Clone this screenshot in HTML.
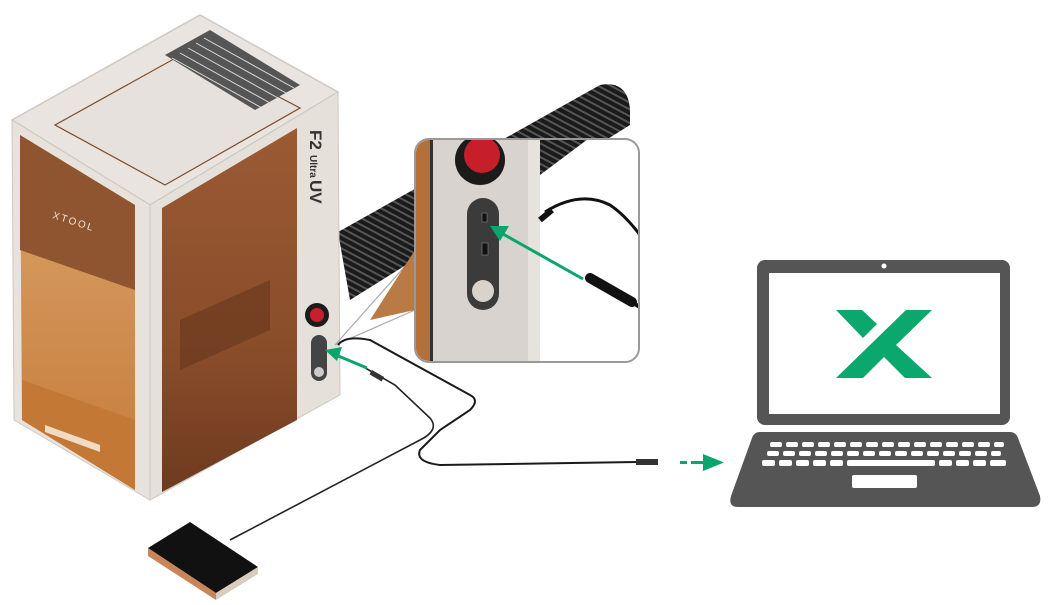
<!DOCTYPE html>
<html><head><meta charset="utf-8"><style>
html,body{margin:0;padding:0;background:#fff;width:1048px;height:605px;overflow:hidden}
svg{display:block}
</style></head><body>
<svg width="1048" height="605" viewBox="0 0 1048 605" xmlns="http://www.w3.org/2000/svg">
<defs>
<linearGradient id="tube" x1="0" y1="0" x2="0.3" y2="1">
<stop offset="0" stop-color="#3a3a3a"/><stop offset="1" stop-color="#0d0d0d"/></linearGradient>
<pattern id="rib" width="6" height="6" patternUnits="userSpaceOnUse" patternTransform="rotate(-62)">
<rect width="6" height="6" fill="#1a1a1a"/><rect width="2" height="6" fill="#555"/></pattern>
<linearGradient id="side" x1="0" y1="0" x2="0" y2="1">
<stop offset="0" stop-color="#9a5a34"/><stop offset="0.6" stop-color="#8a4d2a"/><stop offset="1" stop-color="#6d3a1f"/></linearGradient>
<linearGradient id="front" x1="0" y1="0" x2="0" y2="1">
<stop offset="0" stop-color="#dca56a"/><stop offset="1" stop-color="#c47a3a"/></linearGradient>
</defs>

<!-- exhaust tube -->
<path d="M338 232 L600 85 Q628 80 630 110 L630 125 L350 300 Z" fill="url(#rib)"/>

<!-- machine top face -->
<path d="M12 120 L200 15 L338 92 L150 205 Z" fill="#e9e4df" stroke="#cfc8c1" stroke-width="1.5"/>
<path d="M55 125 L190 50 L300 108 L165 185 Z" fill="#e6e1dc" stroke="#7a4a2a" stroke-width="1.2"/>
<path d="M165 55 L210 30 L300 85 L255 110 Z" fill="#555"/>
<g stroke="#ddd" stroke-width="1">
<line x1="172" y1="58" x2="262" y2="108"/><line x1="180" y1="53" x2="270" y2="103"/>
<line x1="188" y1="48" x2="278" y2="98"/><line x1="196" y1="43" x2="286" y2="93"/>
<line x1="204" y1="38" x2="294" y2="88"/></g>
<!-- front face frame -->
<path d="M12 120 L150 205 L150 500 L14 420 Z" fill="#e8e2dc" stroke="#cfc8c1"/>
<path d="M20 135 L135 205 L135 490 L22 420 Z" fill="url(#front)"/>
<path d="M20 135 L135 205 L135 290 L20 250 Z" fill="#8f5530"/>
<path d="M22 380 L135 420 L135 490 L22 420 Z" fill="#c47836"/>
<path d="M45 425 L100 445 L100 452 L45 432 Z" fill="#f1dcc3"/>
<text x="52" y="218" font-family="Liberation Sans, sans-serif" font-size="10" fill="#f3e6d8" letter-spacing="2" transform="rotate(18 52 218)">XTOOL</text>
<!-- side face -->
<path d="M150 205 L338 92 L340 395 L150 500 Z" fill="#e6e0da" stroke="#cfc8c1"/>
<path d="M162 208 L297 128 L297 420 L162 492 Z" fill="url(#side)"/>
<path d="M180 320 L270 280 L270 330 L180 370 Z" fill="#5e321a" opacity="0.5"/>
<!-- label -->
<text x="310" y="130" font-family="Liberation Sans, sans-serif" font-weight="bold" font-size="17" fill="#333" transform="rotate(90 310 130)">F2</text>
<text x="310" y="155" font-family="Liberation Sans, sans-serif" font-weight="bold" font-size="10" fill="#333" transform="rotate(90 310 155)">Ultra</text>
<text x="310" y="180" font-family="Liberation Sans, sans-serif" font-weight="bold" font-size="17" fill="#333" transform="rotate(90 310 180)">UV</text>
<!-- red button & ports -->
<circle cx="317" cy="315" r="12" fill="#1c1c1c"/><circle cx="317" cy="315" r="7" fill="#c8202a"/>
<rect x="311" y="335" width="16" height="46" rx="8" fill="#444"/>
<circle cx="319" cy="372" r="5" fill="#ccc"/>
<!-- connector lines to inset -->
<path d="M335 345 L415 255 M335 345 L415 310" stroke="#aaa" stroke-width="1.2" fill="none"/>
<path d="M370 320 L415 250 L415 310 Z" fill="#b97a45"/>

<!-- cables -->
<path d="M338 345 Q345 335 370 340 L470 395 Q480 400 470 410 L440 430 Q430 440 420 450 Q415 462 440 465 L640 462" stroke="#1a1a1a" stroke-width="2" fill="none"/>
<path d="M360 365 L395 385 L430 418 Q440 430 420 440 L230 540" stroke="#222" stroke-width="1.6" fill="none"/>
<rect x="372" y="370" width="14" height="5" fill="#333" transform="rotate(30 372 370)"/>
<rect x="636" y="459" width="22" height="6" fill="#333"/>

<!-- foot pedal -->
<path d="M148 548 L190 522 L258 567 L216 593 Z" fill="#111"/>
<path d="M148 548 L216 593 L216 600 L148 556 Z" fill="#c8855a"/>
<path d="M216 593 L258 567 L258 574 L216 600 Z" fill="#d9cbbd"/>

<!-- green arrows -->
<g stroke="#0aa56c" stroke-width="3" fill="#0aa56c">
<line x1="367" y1="368" x2="336" y2="355"/>
<polygon points="325,350 342,347 337,361" stroke="none"/>
</g>

<!-- inset -->
<rect x="415" y="139" width="224" height="223" rx="14" fill="#fff" stroke="#999" stroke-width="2"/>
<clipPath id="ic"><rect x="416" y="140" width="222" height="221" rx="13"/></clipPath>
<g clip-path="url(#ic)">
<path d="M520 140 L620 70 L640 100 L540 175 Z" fill="url(#rib)"/>
<rect x="416" y="140" width="124" height="222" fill="#d8d3cf"/>
<rect x="416" y="140" width="14" height="222" fill="#b47038"/>
<rect x="430" y="140" width="3" height="222" fill="#333"/>
<rect x="528" y="140" width="12" height="222" fill="#e6e2de"/>
<ellipse cx="480" cy="160" rx="25" ry="25" fill="#1b1b1b"/>
<circle cx="482" cy="155" r="18" fill="#c61f2a"/>
<rect x="467" y="198" width="32" height="112" rx="16" fill="#3b3b3b"/>
<rect x="482" y="213" width="5" height="9" fill="#111" stroke="#888" stroke-width="0.6"/>
<rect x="482" y="243" width="6" height="12" fill="#111" stroke="#888" stroke-width="0.6"/>
<circle cx="483" cy="291" r="11" fill="#d9d3cc"/>
<path d="M545 212 Q580 190 610 205 Q625 215 640 235" stroke="#111" stroke-width="3" fill="none"/>
<path d="M540 220 L552 210" stroke="#111" stroke-width="6"/>
<path d="M590 278 L632 302" stroke="#111" stroke-width="10" stroke-linecap="round"/>
<path d="M628 300 L645 310" stroke="#111" stroke-width="4"/>
</g>
<g stroke="#0aa56c" stroke-width="3" fill="#0aa56c">
<line x1="583" y1="279" x2="503" y2="234"/>
<polygon points="490,226 509,226 500,241" stroke="none"/>
</g>

<!-- dashed arrow to laptop -->
<g fill="#0aa56c">
<rect x="680" y="461" width="7" height="3"/>
<rect x="691" y="461" width="14" height="3"/>
<polygon points="703,454 724,462.5 703,471"/>
</g>

<!-- laptop -->
<rect x="757" y="260" width="253" height="165" rx="8" fill="#555"/>
<rect x="769" y="273" width="231" height="141" fill="#fff"/>
<circle cx="884" cy="266" r="2.5" fill="#fff"/>
<polygon points="836,310 862,310 877,324 863,338" fill="#0aa86c"/>
<polygon points="836,378 906,310 932,310 896,345 932,378 905,378 884,357 863,378" fill="#0aa86c"/>
<path d="M760 432 L1010 432 Q1016 432 1018 438 L1040 496 Q1042 507 1032 507 L738 507 Q728 507 731 496 L752 438 Q754 432 760 432 Z" fill="#555"/>
<g fill="#fff">
<g id="r1"><rect x="770" y="442" width="12" height="5" rx="2"/><rect x="786" y="442" width="12" height="5" rx="2"/><rect x="802" y="442" width="12" height="5" rx="2"/><rect x="818" y="442" width="12" height="5" rx="2"/><rect x="834" y="442" width="12" height="5" rx="2"/><rect x="850" y="442" width="12" height="5" rx="2"/><rect x="866" y="442" width="12" height="5" rx="2"/><rect x="882" y="442" width="12" height="5" rx="2"/><rect x="898" y="442" width="12" height="5" rx="2"/><rect x="914" y="442" width="12" height="5" rx="2"/><rect x="930" y="442" width="12" height="5" rx="2"/><rect x="946" y="442" width="12" height="5" rx="2"/><rect x="962" y="442" width="12" height="5" rx="2"/><rect x="978" y="442" width="12" height="5" rx="2"/><rect x="994" y="442" width="10" height="5" rx="2"/></g>
<use href="#r1" transform="translate(-3 9)"/>
<rect x="762" y="460" width="13" height="6" rx="2"/><rect x="779" y="460" width="13" height="6" rx="2"/><rect x="796" y="460" width="13" height="6" rx="2"/><rect x="813" y="460" width="13" height="6" rx="2"/><rect x="830" y="460" width="13" height="6" rx="2"/><rect x="847" y="460" width="88" height="6" rx="2"/><rect x="939" y="460" width="13" height="6" rx="2"/><rect x="956" y="460" width="13" height="6" rx="2"/><rect x="973" y="460" width="13" height="6" rx="2"/><rect x="990" y="460" width="16" height="6" rx="2"/>
<rect x="852" y="475" width="65" height="13" rx="2"/>
</g>
</svg>
</body></html>
